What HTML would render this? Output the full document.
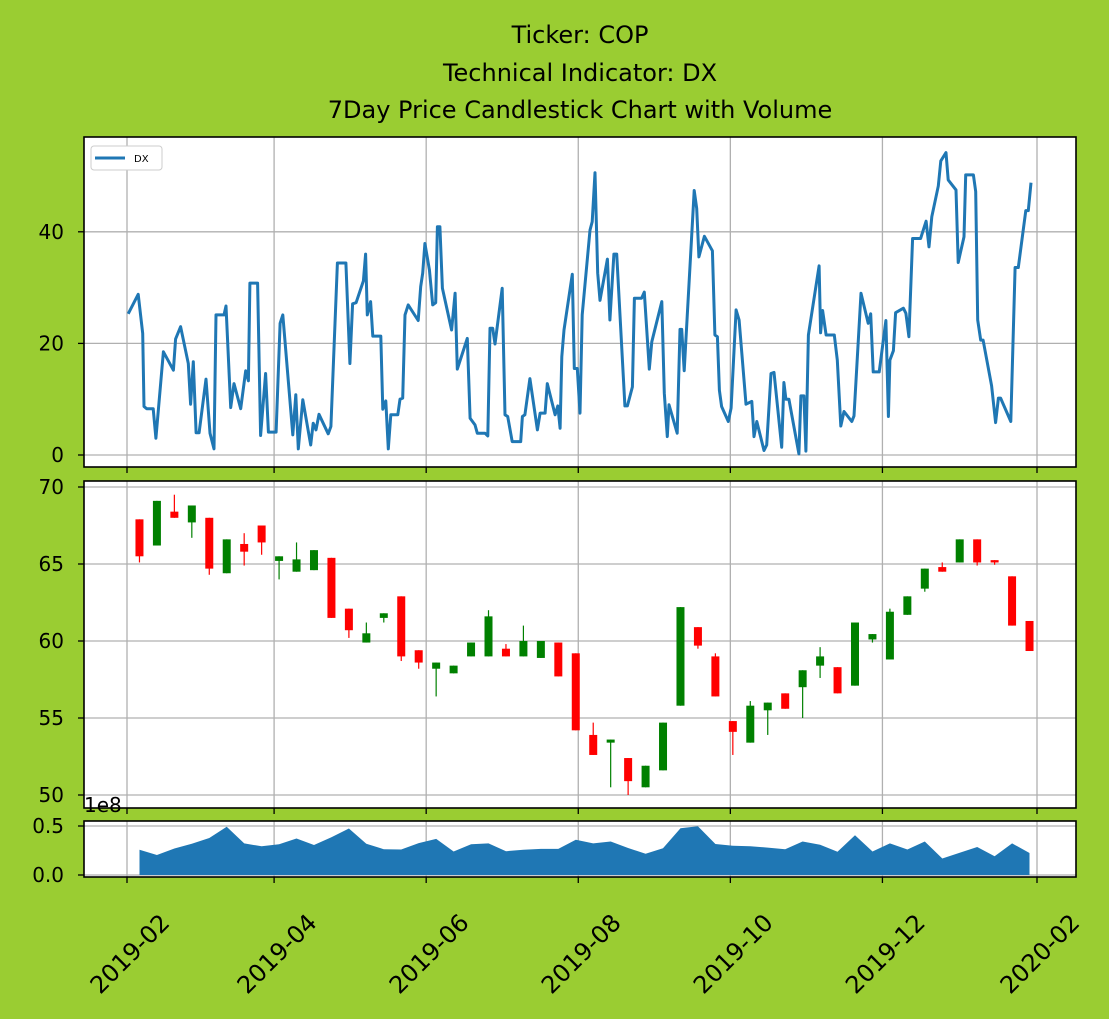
<!DOCTYPE html>
<html><head><meta charset="utf-8"><style>
body{margin:0;background:#9acd32;}
svg{display:block;font-family:"DejaVu Sans","Liberation Sans",sans-serif;}
</style></head><body>
<svg id="chart" width="1109" height="1019" viewBox="0 0 1109 1019" xmlns="http://www.w3.org/2000/svg">
<rect width="1109" height="1019" fill="#9acd32"/>
<g font-size="24" text-anchor="middle" fill="#000">
<text x="580" y="43">Ticker: COP</text>
<text x="580" y="81">Technical Indicator: DX</text>
<text x="580" y="118">7Day Price Candlestick Chart with Volume</text>
</g>
<g id="dx-panel"></g>
<g id="price-panel"></g>
<g id="volume-panel"></g>
<g id="xaxis"></g>
</svg>
<script>
// x values are day offsets from 2019-02-01
const xTickDays = [0, 59, 120, 181, 242, 303, 365];
const xTickLabels = ["2019-02","2019-04","2019-06","2019-08","2019-10","2019-12","2020-02"];
const dxDays = [0.5,4.5,6.3,6.8,7.9,10.5,11.6,14.6,18.6,19.5,21.5,24.6,25.5,26.6,27.7,28.9,31.7,33.3,34.9,35.7,38.9,39.7,41.6,42.9,45.6,47.6,48.7,49.3,52.4,53.6,55.6,56.7,59.8,61.4,62.5,66.5,67.7,68.7,70.5,73.7,74.7,75.8,77.0,80.7,81.8,84.4,87.8,89.4,90.5,91.9,94.8,95.7,96.4,97.7,98.6,101.8,102.6,103.8,104.8,105.8,108.6,109.5,110.6,111.5,112.8,116.8,117.8,118.6,119.5,121.3,122.6,123.8,124.5,125.5,126.5,130.2,131.6,132.5,136.5,137.6,139.6,140.5,143.6,144.7,145.6,146.7,147.6,150.5,151.6,152.7,154.5,157.9,158.6,159.6,161.6,164.6,165.7,167.7,168.6,171.7,172.8,173.7,174.4,175.3,178.6,179.4,180.6,181.7,182.6,185.7,186.6,187.7,188.8,189.7,192.7,193.7,195.3,196.4,199.7,200.7,202.7,203.5,206.4,207.5,209.5,210.5,214.5,215.5,216.7,217.4,220.7,221.8,222.5,223.5,224.7,227.5,228.5,229.4,231.6,234.8,235.8,236.8,237.6,238.5,241.2,242.3,244.3,245.5,248.3,250.6,251.5,252.6,255.5,256.6,258.3,259.5,262.6,263.5,264.3,265.5,269.5,270.3,271.5,272.3,273.3,277.6,278.2,279.0,280.4,283.7,284.9,286.3,287.6,290.7,291.6,294.4,297.3,298.3,299.3,301.7,304.4,305.4,306.0,307.4,308.3,311.4,312.4,313.6,315.1,318.3,320.5,321.7,322.8,325.4,326.4,328.5,329.4,332.5,333.4,335.7,336.4,339.5,340.4,341.2,342.4,343.4,346.8,348.4,349.5,350.4,354.5,356.2,357.5,360.5,361.5,362.6];
const dxValues = [25.3,28.8,21.8,8.7,8.3,8.3,3.0,18.5,15.2,20.8,23.0,16.4,9.1,16.7,4.0,4.0,13.6,3.9,1.1,25.1,25.1,26.7,8.5,12.8,8.3,15.1,13.3,30.8,30.8,3.5,14.6,4.1,4.1,23.6,25.1,3.6,10.8,1.1,9.9,1.8,5.7,4.5,7.3,3.8,5.1,34.4,34.4,16.4,27.1,27.3,31.2,36.0,25.1,27.5,21.3,21.3,8.2,9.7,1.1,7.2,7.2,10.0,10.2,25.1,26.9,24.1,30.2,32.6,37.9,33.2,26.9,27.3,40.9,40.9,29.9,22.4,29.0,15.4,20.9,6.6,5.4,3.9,3.9,3.4,22.7,22.7,19.9,29.9,7.2,6.9,2.4,2.4,6.9,7.2,13.7,4.5,7.5,7.5,12.8,7.2,8.8,4.8,17.6,22.4,32.4,15.5,15.5,7.5,25.1,40.3,41.8,50.6,32.6,27.7,35.1,24.2,36.0,36.0,8.8,8.8,12.2,28.1,28.1,29.2,15.4,20.3,27.5,11.1,3.3,9.0,3.9,22.5,22.5,15.1,24.8,47.4,44.2,35.5,39.2,36.6,21.5,21.2,11.6,8.7,6.0,8.4,26.0,24.2,9.1,9.6,3.3,6.0,0.8,1.8,14.6,14.8,1.4,13.0,10.0,10.0,0.2,10.6,10.6,0.7,21.5,33.9,21.9,25.9,21.5,21.5,17.0,5.2,7.8,6.0,7.0,29.0,23.6,25.3,14.9,14.9,24.1,6.9,17.0,18.7,25.5,26.3,25.4,21.2,38.8,38.8,41.9,37.3,42.7,48.2,52.7,54.2,49.3,47.5,34.5,39.1,50.2,50.2,47.2,24.2,20.6,20.6,12.4,5.8,10.2,10.2,6.0,33.6,33.6,43.8,43.8,48.8];
const candleDays = [5,12,19,26,33,40,47,54,61,68,75,82,89,96,103,110,117,124,131,138,145,152,159,166,173,180,187,194,201,208,215,222,229,236,243,250,257,264,271,278,285,292,299,306,313,320,327,334,341,348,355,362];
const opens  = [67.9,66.2,68.4,67.7,68.0,64.4,66.3,67.5,65.2,64.5,64.6,65.4,62.1,59.9,61.5,62.9,59.4,58.2,57.9,59.0,59.0,59.5,59.0,58.9,59.9,59.2,53.9,53.4,52.4,50.5,51.6,55.8,60.9,59.0,54.8,53.4,55.5,56.6,57.0,58.4,58.3,57.1,60.1,58.8,61.7,63.4,64.8,65.1,66.6,65.25,64.2,61.3];
const closes = [65.5,69.1,68.0,68.8,64.7,66.6,65.8,66.4,65.5,65.3,65.9,61.5,60.7,60.5,61.8,59.0,58.6,58.6,58.4,59.9,61.6,59.0,60.0,60.0,57.7,54.2,52.6,53.6,50.9,51.9,54.7,62.2,59.7,56.4,54.1,55.8,56.0,55.6,58.1,59.0,56.6,61.2,60.45,61.9,62.9,64.7,64.5,66.6,65.1,65.1,61.0,59.35];
const highs  = [67.9,69.1,69.5,68.8,68.0,66.6,67.0,67.5,65.5,66.4,65.9,65.4,62.1,61.2,61.8,62.9,59.4,58.6,58.4,59.9,62.0,59.8,61.0,60.0,59.9,59.2,54.7,53.6,52.4,51.9,54.7,62.2,60.9,59.2,54.8,56.1,56.0,56.6,58.1,59.6,58.3,61.2,60.45,62.1,62.9,64.7,65.1,66.6,66.6,65.25,64.2,61.3];
const lows   = [65.1,66.2,68.0,66.7,64.3,64.4,64.9,65.6,64.0,64.5,64.6,61.5,60.2,59.9,61.2,58.7,58.2,56.4,57.9,59.0,59.0,59.0,59.0,58.9,57.7,54.2,52.6,50.5,50.0,50.5,51.6,55.8,59.5,56.4,52.6,53.4,53.9,55.6,55.0,57.6,56.6,57.1,59.9,58.8,61.7,63.2,64.5,65.1,64.9,64.95,61.0,59.35];
const volumes = [0.257,0.204,0.27,0.319,0.378,0.493,0.322,0.293,0.313,0.372,0.306,0.385,0.474,0.319,0.263,0.26,0.326,0.368,0.24,0.313,0.322,0.243,0.257,0.266,0.266,0.359,0.322,0.342,0.276,0.217,0.273,0.477,0.497,0.316,0.299,0.293,0.28,0.263,0.342,0.309,0.237,0.405,0.24,0.322,0.26,0.342,0.168,0.227,0.286,0.191,0.322,0.224];
const dxTicks = [0,20,40];
const priceTicks = [50,55,60,65,70];
const volTicks = [0.0,0.5];
const volTickLabels = ["0.0","0.5"];

const NS = "http://www.w3.org/2000/svg";
const L = 84, R = 1076;
function X(d){ return 127 + d * (910/365); }
const P1 = {top:137, bot:467, y:v => 455 - v*5.58};
const P2 = {top:481, bot:808, y:v => 487 + (70-v)*15.4};
const P3 = {top:821, bot:877, y:v => 875 - v*98};
function mk(tag, attrs, parent){ const e=document.createElementNS(NS,tag); for(const k in attrs) e.setAttribute(k,attrs[k]); parent.appendChild(e); return e; }

function frame(g, P, ticks, labels, name){
  const bg = mk('rect',{x:L,y:P.top,width:R-L,height:P.bot-P.top,fill:'#fff'},g);
  
  
  xTickDays.forEach(d=>{
    const l=mk('line',{x1:X(d),x2:X(d),y1:P.top,y2:P.bot,stroke:'#b0b0b0','stroke-width':1.3},g);
    
    
    const t=mk('line',{x1:X(d),x2:X(d),y1:P.bot,y2:P.bot+6,stroke:'#000','stroke-width':1.3},g);
    
    
  });
  ticks.forEach((v,i)=>{
    const y=P.y(v);
    const l=mk('line',{x1:L,x2:R,y1:y,y2:y,stroke:'#b0b0b0','stroke-width':1.3},g);
    
    
    const t=mk('line',{x1:L-6,x2:L,y1:y,y2:y,stroke:'#000','stroke-width':1.3},g);
    
    
    const tx=mk('text',{x:L-20,y:y+7,'font-size':20,'text-anchor':'end'},g);
    
    
    tx.textContent = labels ? labels[i] : String(v);
  });
}
function border(g,P,name){
  const b=mk('rect',{x:L,y:P.top,width:R-L,height:P.bot-P.top,fill:'none',stroke:'#000','stroke-width':1.6},g);
  
  
}

// DX panel
const g1=document.getElementById('dx-panel');
frame(g1,P1,dxTicks,null,'dx');
const dxLine=mk('polyline',{points:dxDays.map((d,i)=>X(d).toFixed(1)+','+P1.y(dxValues[i]).toFixed(1)).join(' '),fill:'none',stroke:'#1f77b4','stroke-width':3,'stroke-linejoin':'round'},g1);


border(g1,P1,'dx');
const lg=mk('g',{},g1);


mk('rect',{x:91,y:146,width:71,height:24,rx:3,fill:'#fff',stroke:'#ccc','stroke-width':1},lg);
mk('line',{x1:95,x2:125,y1:158,y2:158,stroke:'#1f77b4','stroke-width':3},lg);
const lt=mk('text',{x:134,y:162,'font-size':10},lg);


lt.textContent='DX';

// Price panel
const g2=document.getElementById('price-panel');
frame(g2,P2,priceTicks,null,'price');
candleDays.forEach((d,i)=>{
  const up = closes[i] >= opens[i];
  const col = up ? '#008000' : '#ff0000';
  const x = X(d);
  const w = mk('line',{x1:x,x2:x,y1:P2.y(highs[i]),y2:P2.y(lows[i]),stroke:col,'stroke-width':1.2},g2);
  
  
  const yt=P2.y(Math.max(opens[i],closes[i])), yb=P2.y(Math.min(opens[i],closes[i]));
  const b = mk('rect',{x:x-4,y:yt,width:8,height:Math.max(1.5,yb-yt),fill:col},g2);
  
  
});
border(g2,P2,'price');

// Volume panel
const g3=document.getElementById('volume-panel');
frame(g3,P3,volTicks,volTickLabels,'volume');
let pts = X(candleDays[0]).toFixed(1)+','+P3.y(0)+' ';
pts += candleDays.map((d,i)=>X(d).toFixed(1)+','+P3.y(volumes[i]).toFixed(1)).join(' ');
pts += ' '+X(candleDays[candleDays.length-1]).toFixed(1)+','+P3.y(0);
const va=mk('polygon',{points:pts,fill:'#1f77b4'},g3);


border(g3,P3,'volume');
const off=mk('text',{x:84,y:812,'font-size':20},g3);


off.textContent='1e8';

// X axis labels (centered under ticks, rotated 45)
const gx=document.getElementById('xaxis');
xTickDays.forEach((d,i)=>{
  const x=X(d)+3, y=954;
  const t=mk('text',{x:x,y:y+8,'font-size':24,'text-anchor':'middle',transform:`rotate(-45 ${x} ${y})`},gx);
  
  
  t.textContent=xTickLabels[i];
});
</script>
</body></html>
